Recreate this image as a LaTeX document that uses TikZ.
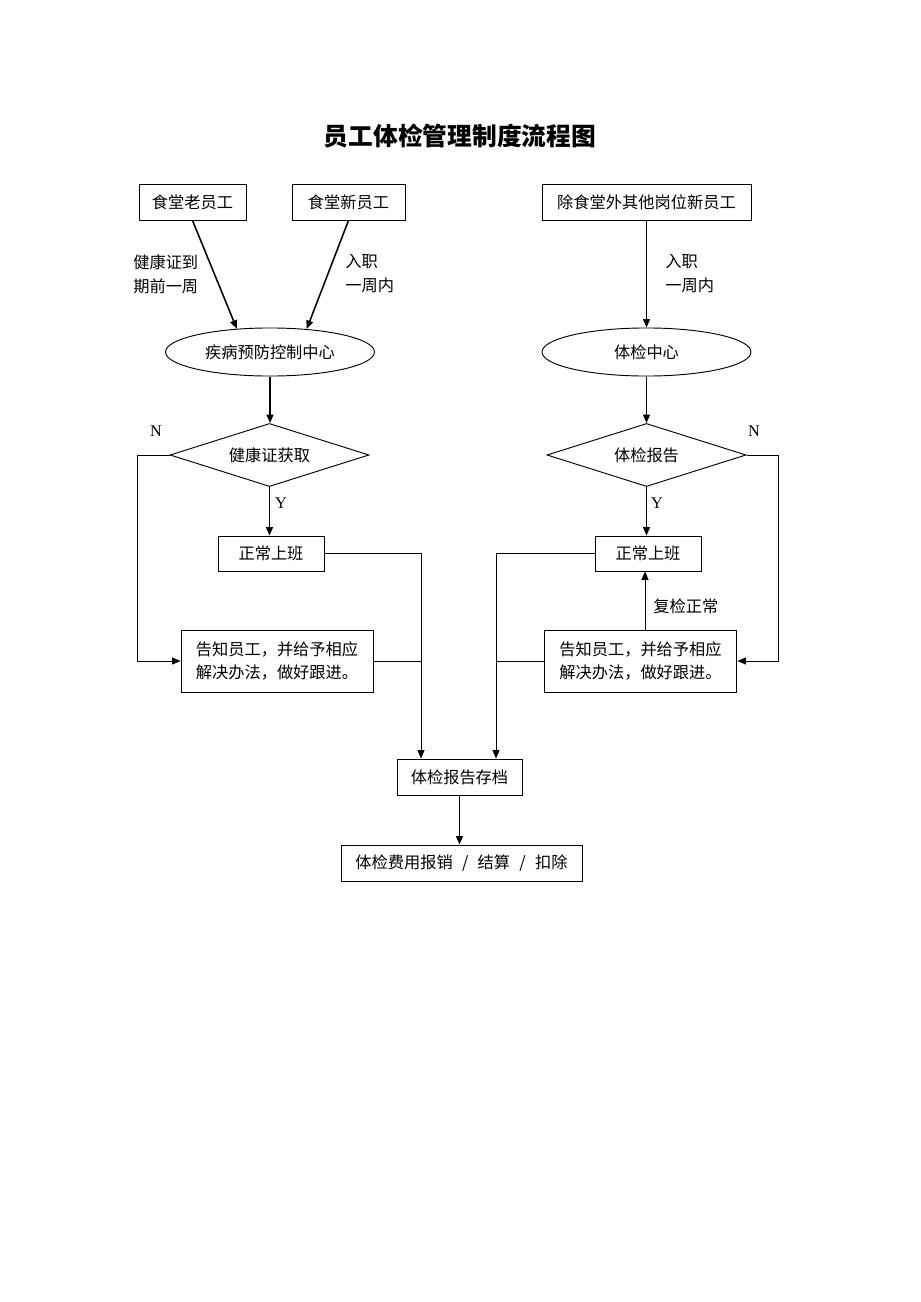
\documentclass[tikz,border=0pt]{standalone}
\usepackage{fontspec}
\setmainfont{Liberation Serif}
\newfontfamily\cjk{Noto Sans CJK SC}
\usetikzlibrary{shapes.geometric,arrows.meta}

\begin{document}
\begin{tikzpicture}[x=0.647pt,y=-0.647pt,
every node/.style={font=\cjk\fontsize{10.5}{15.5}\selectfont},
box/.style={rectangle, draw=black, line width=0.6pt, inner sep=0pt, minimum height=23.3pt},
oval/.style={ellipse, draw=black, line width=0.6pt, inner sep=0pt, minimum width=135.2pt, minimum height=31.1pt},
decide/.style={diamond, draw=black, line width=0.6pt, inner sep=0pt, aspect=3.16, minimum width=128.8pt, minimum height=40.8pt},
note/.style={align=left, anchor=west, inner sep=0pt},
letter/.style={font=\rmfamily\fontsize{10.5}{12}\selectfont, inner sep=0pt},
arr/.style={line width=1pt, -{Triangle[length=5.5pt,width=4.5pt]}},
thinarr/.style={line width=0.6pt, -{Triangle[length=5.5pt,width=4.5pt]}},
link/.style={line width=0.6pt},
]
\useasboundingbox (0,0) rectangle (920,1302);

%Nodes
\node[inner sep=0pt, font=\cjk\bfseries\fontsize{16}{20}\selectfont] (title) at (460,136) {员工体检管理制度流程图};

\node[box, minimum width=69.2pt]  (oldstaff)   at (192.5,202) {食堂老员工};
\node[box, minimum width=73.1pt]  (newstaff)   at (348.5,202) {食堂新员工};
\node[box, minimum width=135.2pt] (otherstaff) at (646.5,202) {除食堂外其他岗位新员工};

\node[oval] (cdc)  at (270,352)   {疾病预防控制中心};
\node[oval] (exam) at (646.5,352) {体检中心};

\node[decide] (cert)   at (269.5,455) {健康证获取};
\node[decide] (report) at (646.5,455) {体检报告};

\node[box, minimum width=68.6pt, minimum height=22.6pt] (workL) at (271,553.5) {正常上班};
\node[box, minimum width=68.6pt, minimum height=22.6pt] (workR) at (648,553.5) {正常上班};

\node[box, minimum width=124.2pt, minimum height=40.1pt, align=center] (tellL) at (277,661)   {告知员工，并给予相应\\解决办法，做好跟进。};
\node[box, minimum width=124.8pt, minimum height=40.1pt, align=center] (tellR) at (640.5,661) {告知员工，并给予相应\\解决办法，做好跟进。};

\node[box, minimum width=80.9pt]  (archive) at (459.5,777) {体检报告存档};
\node[box, minimum width=155.9pt] (payment) at (461.5,863) {体检费用报销\hspace{6pt}/\hspace{6pt}结算\hspace{6pt}/\hspace{6pt}扣除};

%Labels
\node[note] (dueL)  at (133,274) {健康证到\\期前一周};
\node[note] (joinL) at (345,274) {入职\\一周内};
\node[note] (joinR) at (665,274) {入职\\一周内};
\node[note] (recheck) at (653,606) {复检正常};
\node[letter] (nL) at (156,431) {N};
\node[letter] (nR) at (754,431) {N};
\node[letter] (yL) at (281,503) {Y};
\node[letter] (yR) at (657,503) {Y};

\coordinate (mergeL) at (421,0);
\coordinate (mergeR) at (496,0);
\coordinate (upline) at (645,0);

%Lines
\draw[arr] (oldstaff.south) -- (cdc.145);
\draw[arr] (newstaff.south) -- (cdc.32);
\draw[arr] (otherstaff.south) -- (exam.north);
\draw[arr] (cdc.south) -- (cdc.south |- cert.north);
\draw[arr] (exam.south) -- (report.north);
\draw[arr] (cert.south) -- (cert.south |- workL.north);
\draw[arr] (report.south) -- (report.south |- workR.north);
\draw[thinarr] (cert.west) -- ++(-32,0) |- (tellL.west);
\draw[thinarr] (report.east) -- ++(32,0) |- (tellR.east);
\draw[thinarr] (upline |- tellR.north) -- (upline |- workR.south);
\draw[thinarr] (workL.east) -| (mergeL |- archive.north);
\draw[link] (tellL.east) -- (tellL.east -| mergeL);
\draw[thinarr] (workR.west) -| (mergeR |- archive.north);
\draw[link] (tellR.west) -- (tellR.west -| mergeR);
\draw[arr] (archive.south) -- (archive.south |- payment.north);
\end{tikzpicture}
\end{document}
